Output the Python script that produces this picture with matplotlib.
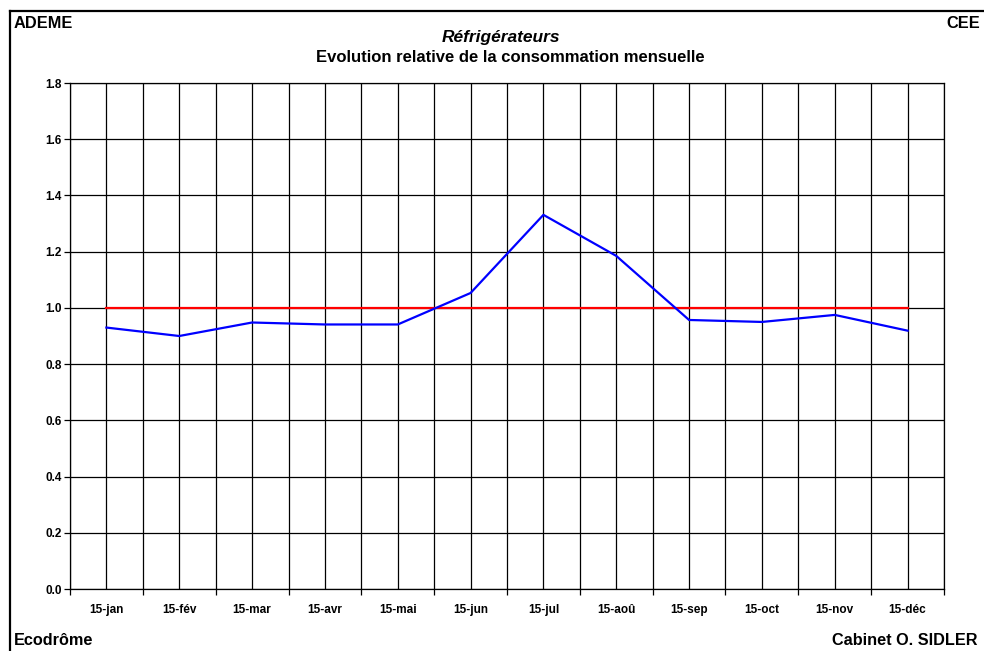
import numpy as np
import matplotlib.pyplot as plt
from matplotlib.lines import Line2D

# =========================
# DATA
# =========================
months = ["15-jan", "15-fév", "15-mar", "15-avr", "15-mai", "15-jun",
          "15-jul", "15-aoû", "15-sep", "15-oct", "15-nov", "15-déc"]
consommation = [0.930, 0.900, 0.948, 0.941, 0.941, 1.053,
                 1.331, 1.185, 0.957, 0.950, 0.975, 0.919]
reference = [1.0] * 12
y_ticks = [0.0, 0.2, 0.4, 0.6, 0.8, 1.0, 1.2, 1.4, 1.6, 1.8]

plt.rcParams["font.family"] = ["Liberation Sans", "DejaVu Sans"]

# =========================
# FIGURE
# =========================
fig = plt.figure(figsize=(9.84, 6.51), dpi=100)
ax = fig.add_axes([70 / 984, 62 / 651, 874 / 984, 506 / 651])

x = np.arange(len(months))
ax.set_xlim(-0.5, len(months) - 0.5)
ax.set_ylim(0, 1.8)

# grid: horizontal at each tick, vertical every half month
for yv in y_ticks:
    ax.axhline(yv, color="black", lw=0.9, zorder=1)
for xv in np.arange(-0.5, len(months), 0.5):
    ax.axvline(xv, color="black", lw=0.9, zorder=1)

ax.plot(x, reference, color="#ff0000", lw=1.6, zorder=3)
ax.plot(x, consommation, color="#0000ff", lw=1.6, zorder=4)

# ticks
ax.set_yticks(y_ticks)
ax.set_yticklabels([f"{v:.1f}" for v in y_ticks], fontsize=8.5, fontweight="bold")
ax.tick_params(axis="y", direction="out", length=4, width=0.9, pad=2)

ax.set_xticks(np.arange(-0.5, len(months), 1.0))
ax.set_xticklabels([])
ax.tick_params(axis="x", which="major", direction="out", length=4, width=0.9)
ax.set_xticks(x, minor=True)
ax.set_xticklabels(months, minor=True, fontsize=8.5, fontweight="bold")
ax.tick_params(axis="x", which="minor", length=0, pad=11)

for sp in ax.spines.values():
    sp.set_linewidth(0.9)
    sp.set_color("black")

# =========================
# TEXTS
# =========================
fig.text(501 / 984, 1 - 42 / 651, "Réfrigérateurs", ha="center", va="baseline",
         fontsize=12.5, fontweight="bold", fontstyle="italic")
fig.text(510 / 984, 1 - 62 / 651, "Evolution relative de la consommation mensuelle",
         ha="center", va="baseline", fontsize=12, fontweight="bold")
fig.text(14 / 984, 1 - 28 / 651, "ADEME", ha="left", va="baseline",
         fontsize=11.8, fontweight="bold")
fig.text(980 / 984, 1 - 28 / 651, "CEE", ha="right", va="baseline",
         fontsize=11.8, fontweight="bold")
fig.text(14 / 984, 1 - 645 / 651, "Ecodrôme", ha="left", va="baseline",
         fontsize=11.7, fontweight="bold")
fig.text(978 / 984, 1 - 645 / 651, "Cabinet O. SIDLER", ha="right", va="baseline",
         fontsize=11.7, fontweight="bold")

# outer frame (top and left)
fig.add_artist(Line2D([9.5 / 984, 1], [1 - 11 / 651, 1 - 11 / 651],
                      color="black", lw=1.6, transform=fig.transFigure))
fig.add_artist(Line2D([9.5 / 984, 9.5 / 984], [0, 1 - 11 / 651],
                      color="black", lw=1.6, transform=fig.transFigure))

fig.savefig("out.png", dpi=100)
